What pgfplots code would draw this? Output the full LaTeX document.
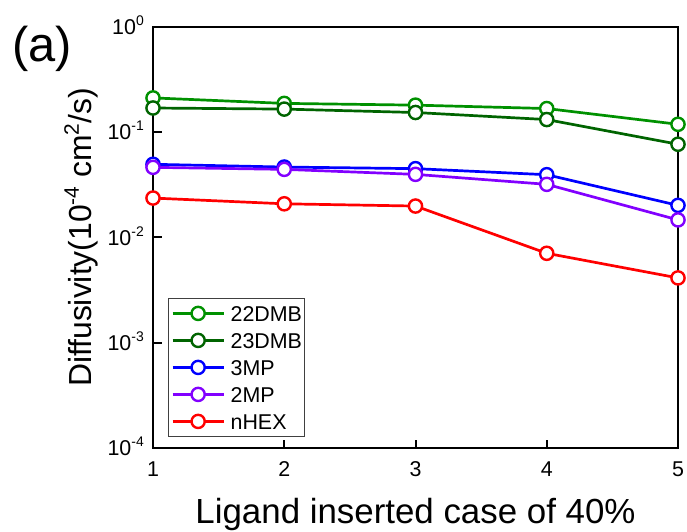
\documentclass[border=0pt]{standalone}
\usepackage{fontspec}
\setmainfont{Liberation Sans}
\usepackage{pgfplots}
\usepackage{pgfplotstable}
\pgfplotsset{compat=1.18}

\definecolor{cDMBa}{RGB}{0,145,0}
\definecolor{cDMBb}{RGB}{0,100,0}
\definecolor{cMPthree}{RGB}{0,0,255}
\definecolor{cMPtwo}{RGB}{130,0,255}
\definecolor{cHEX}{RGB}{255,0,0}

% raised exponents for tick labels and the axis title
\newcommand\ticksup[1]{\raisebox{9bp}{\fontsize{14pt}{14pt}\selectfont #1}}
\newcommand\labsup[1]{\raisebox{13bp}{\fontsize{21pt}{21pt}\selectfont #1}}

% diffusivity (10^-4 cm^2/s) for each ligand-inserted case
\pgfplotstableread{
case  dmbA    dmbB    mpthree  mptwo   hex
1     0.212   0.170   0.0496   0.0464  0.0237
2     0.188   0.166   0.0467   0.0444  0.0209
3     0.181   0.154   0.0451   0.0398  0.0199
4     0.168   0.132   0.0395   0.0320  0.00708
5     0.119   0.0769  0.0202   0.0147  0.00413
}\diffdata

\begin{document}
\begin{tikzpicture}
\path[use as bounding box] (-153bp,-84bp) rectangle (534bp,448bp);
\begin{axis}[
  at={(0,0)}, anchor=south west,
  scale only axis, width=525bp, height=421bp,
  xmin=1, xmax=5, ymin=1e-4, ymax=1, ymode=log,
  clip=false,
  axis line style={line width=2bp},
  every tick/.style={line width=2bp, black},
  tick align=inside, major tick length=8.5bp,
  tick pos=left,
  xminorticks=false, yminorticks=false,
  xtick={1,2,3,4,5},
  ytick={1e-4,1e-3,1e-2,1e-1,1},
  yticklabels={10\ticksup{-4},10\ticksup{-3},10\ticksup{-2},10\ticksup{-1},10\ticksup{0}},
  /pgf/number format/assume math mode=true,
  tick label style={font=\fontsize{21.5pt}{24pt}\selectfont, inner sep=0pt},
  xticklabel style={anchor=base, yshift=-28bp},
  yticklabel style={anchor=base east, xshift=-9bp, yshift=-7.7bp},
  xlabel={Ligand inserted case of 40\%},
  xlabel style={font=\fontsize{35pt}{38pt}\selectfont, at={(axis description cs:0.5,0)}, anchor=base, yshift=-75.3bp, inner sep=0pt},
  ylabel={Diffusivity(10\labsup{-4} cm\labsup{2}/s)},
  ylabel style={font=\fontsize{32pt}{36pt}\selectfont, at={(axis description cs:-0.11619,0.5)}, anchor=base, inner sep=0pt},
  legend image code/.code={
    \draw[mark repeat=2,mark phase=2,#1] plot coordinates {(0bp,0bp) (25.5bp,0bp) (51bp,0bp)};
    \path (56.6bp,0bp);
  },
  legend cell align=left,
  legend style={at={(axis description cs:0.02857,0.02613)}, anchor=south west,
    draw=black!75, line width=1.2bp, inner xsep=2.7bp, inner ysep=7.3bp,
    row sep=11.6bp, font=\fontsize{21.5pt}{24pt}\selectfont,
    nodes={inner sep=0pt, text height=15.4bp, text depth=0pt}},
  diff/.style={line width=2.7bp, mark=*, mark size=6.6bp,
    mark options={solid, fill=white, line width=2.4bp}},
]
\addplot[diff, color=cDMBa]    table[x=case, y=dmbA]{\diffdata};
\addlegendentry{22DMB}
\addplot[diff, color=cDMBb]    table[x=case, y=dmbB]{\diffdata};
\addlegendentry{23DMB}
\addplot[diff, color=cMPthree] table[x=case, y=mpthree]{\diffdata};
\addlegendentry{3MP}
\addplot[diff, color=cMPtwo]   table[x=case, y=mptwo]{\diffdata};
\addlegendentry{2MP}
\addplot[diff, color=cHEX]     table[x=case, y=hex]{\diffdata};
\addlegendentry{nHEX}
\end{axis}
\node[anchor=base west, inner sep=0pt, font=\fontsize{49pt}{52pt}\selectfont] at (-141bp,386bp) {(a)};
\end{tikzpicture}
\end{document}
